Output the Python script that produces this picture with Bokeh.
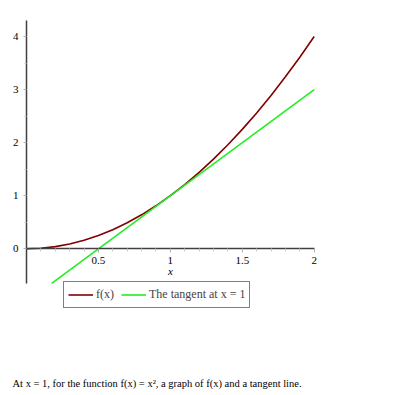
from bokeh.plotting import figure
from bokeh.models import FixedTicker, Legend, LegendItem, Label
from bokeh.embed import file_html
from bokeh.resources import INLINE

# data
curve_x = [0, 0.1, 0.2, 0.3, 0.4, 0.5, 0.6, 0.7, 0.8, 0.9, 1.0,
           1.1, 1.2, 1.3, 1.4, 1.5, 1.6, 1.7, 1.8, 1.9, 2.0]
curve_y = [0, 0.01, 0.04, 0.09, 0.16, 0.25, 0.36, 0.49, 0.64, 0.81, 1.0,
           1.21, 1.44, 1.69, 1.96, 2.25, 2.56, 2.89, 3.24, 3.61, 4.0]
tangent_x = [0.175, 2.0]
tangent_y = [-0.65, 3.0]
x_ticks = [0.5, 1, 1.5, 2]
x_minor = [0.1, 0.2, 0.3, 0.4, 0.6, 0.7, 0.8, 0.9, 1.1, 1.2, 1.3, 1.4,
           1.6, 1.7, 1.8, 1.9]
y_ticks = [0, 1, 2, 3, 4]
y_minor = [0.5, 1.5, 2.5, 3.5]
labels = ["f(x)", "The tangent at x = 1"]
caption = "At x = 1, for the function f(x) = x\u00b2, a graph of f(x) and a tangent line."

SERIF = "Liberation Serif"

p = figure(frame_width=387, frame_height=393,
           x_range=(-0.1807, 2.5096), y_range=(-2.727, 4.678),
           output_backend="svg", toolbar_location=None,
           min_border_left=0, min_border_top=0,
           min_border_right=0, min_border_bottom=0)
p.outline_line_color = None
p.grid.visible = False

r1 = p.line(curve_x, curve_y, line_color="#800000", line_width=1.6)
r2 = p.line(tangent_x, tangent_y, line_color="#22ee22", line_width=1.6)

xa = p.xaxis[0]
xa.fixed_location = 0
xa.bounds = (0, 2)
xa.ticker = FixedTicker(ticks=x_ticks, minor_ticks=x_minor)
xa.axis_line_color = "#404040"
xa.axis_line_width = 1.5
xa.major_tick_line_color = "#b0b0b0"
xa.minor_tick_line_color = "#c8c8c8"
xa.major_tick_in = 0
xa.major_tick_out = 4
xa.minor_tick_in = 0
xa.minor_tick_out = 3
xa.major_label_text_font = SERIF
xa.major_label_text_font_size = "11px"
xa.major_label_text_color = "black"
xa.major_label_standoff = 4
xa.axis_label = "x"
xa.axis_label_text_font = SERIF
xa.axis_label_text_font_style = "italic"
xa.axis_label_text_font_size = "11px"
xa.axis_label_text_color = "black"
xa.axis_label_standoff = -2

ya = p.yaxis[0]
ya.fixed_location = 0
ya.bounds = (-0.654, 4.30)
ya.ticker = FixedTicker(ticks=y_ticks, minor_ticks=y_minor)
ya.axis_line_color = "#404040"
ya.axis_line_width = 1.5
ya.major_tick_line_color = "#b0b0b0"
ya.minor_tick_line_color = "#c8c8c8"
ya.major_tick_in = 0
ya.major_tick_out = 3
ya.minor_tick_in = 0
ya.minor_tick_out = 2
ya.major_label_text_font = SERIF
ya.major_label_text_font_size = "11px"
ya.major_label_text_color = "black"
ya.major_label_standoff = 5
ya.major_label_orientation = "horizontal"

legend = Legend(items=[LegendItem(label=labels[0], renderers=[r1]),
                       LegendItem(label=labels[1], renderers=[r2])],
                orientation="horizontal", location=(63, 85),
                glyph_width=25, glyph_height=17, padding=4, spacing=5,
                label_standoff=3,
                label_text_font=SERIF, label_text_font_size="12px",
                border_line_color="black", border_line_width=1,
                background_fill_alpha=1, margin=0)
p.add_layout(legend, "center")

p.add_layout(Label(x=12, y=10, x_units="screen", y_units="screen",
                   text=caption, text_font=SERIF, text_font_size="10.5px",
                   text_baseline="middle", text_color="black"))

open("out.html", "w").write(file_html(p, INLINE))
